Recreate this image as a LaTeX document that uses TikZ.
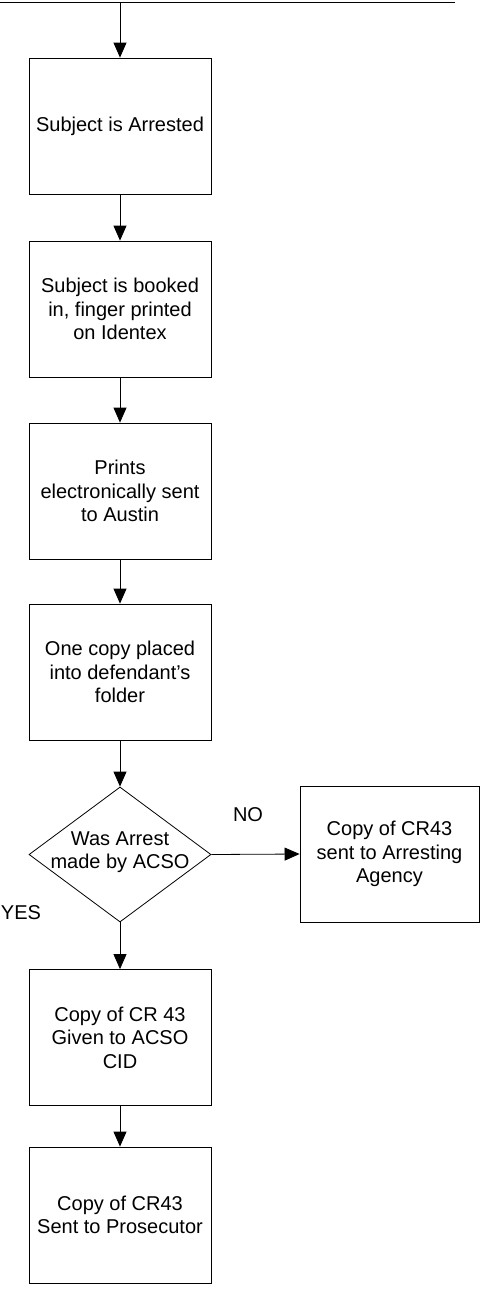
\documentclass[tikz,border=0pt]{standalone}
\usepackage{fontspec}
\setmainfont{Liberation Sans}
\usetikzlibrary{shapes.geometric, arrows.meta, positioning}

\newcommand{\flowfont}{\fontsize{20}{23.5}\selectfont}

\begin{document}
\begin{tikzpicture}[x=1pt, y=-1pt,
    procbox/.style={draw, line width=0.8pt, minimum width=182pt, minimum height=136pt,
                    inner sep=0pt, align=center, font=\flowfont},
    decision/.style={draw, line width=0.8pt, diamond, minimum width=182pt,
                     minimum height=135pt, inner sep=0pt},
    flowarrow/.style={line width=0.8pt, -{Triangle[width=13pt, length=15pt]}},
    answer/.style={font=\flowfont}]
  \useasboundingbox (0,0) rectangle (480,1294);

  % incoming line along the top
  \coordinate (topleft) at (0,2);
  \coordinate (topright) at (455,2);
  \coordinate (topjoin) at (120,2);
  \draw[line width=0.8pt] (topleft) -- (topright);

  % main column
  \node[procbox] (arrested) at (120,126) {Subject is Arrested};
  \node[procbox] (booked) at (120,309) {Subject is booked\\in, finger printed\\on Identex};
  \node[procbox] (austin) at (120,491) {Prints\\electronically sent\\to Austin};
  \node[procbox] (folder) at (120,672) {One copy placed\\into defendant's\\folder};
  \node[decision] (acso) at (120,854.5) {};
  \node[font=\flowfont, align=center] (acsotext) at (120,852) {Was Arrest\\made by ACSO};
  \node[procbox] (cid) at (120,1037.5) {Copy of CR 43\\Given to ACSO\\CID};
  \node[procbox] (prosecutor) at (120,1215) {Copy of CR43\\Sent to Prosecutor};

  % side branch
  \node[procbox, minimum width=179pt] (agency) at (389.5,854) {Copy of CR43\\sent to Arresting\\Agency};

  \node[answer] (no) at (248,815) {NO};
  \node[answer] (yes) at (21,913) {YES};

  \draw[flowarrow] (topjoin) -- (arrested);
  \draw[flowarrow] (arrested) -- (booked);
  \draw[flowarrow] (booked) -- (austin);
  \draw[flowarrow] (austin) -- (folder);
  \draw[flowarrow] (folder) -- (acso.north);
  \draw[flowarrow] (acso.south) -- (cid);
  \draw[flowarrow] (cid) -- (prosecutor);
  \draw[flowarrow] (acso.east) -- (agency.west);
\end{tikzpicture}
\end{document}
